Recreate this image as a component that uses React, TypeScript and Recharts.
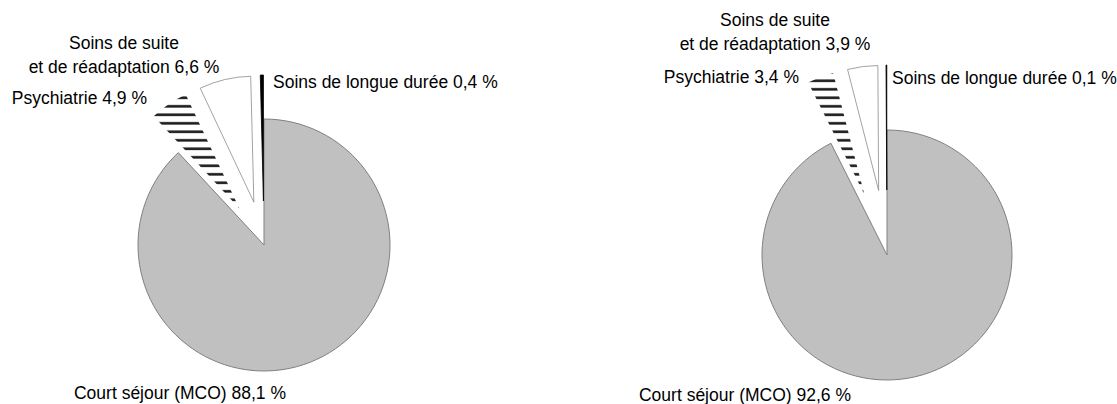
import { PieChart, Pie, Cell } from 'recharts';

// categories, clockwise from 12 o'clock
const categories = [
  'Court séjour (MCO)',
  'Psychiatrie',
  'Soins de suite\net de réadaptation',
  'Soins de longue durée',
];
const sharesLeft = [88.1, 4.9, 6.6, 0.4];
const sharesRight = [92.6, 3.4, 3.9, 0.1];

const FILLS = ['#c0c0c0', 'url(#stripes)', '#ffffff', '#000000'];
const STROKES = ['#808080', 'none', '#8a8a8a', '#000000'];
const EXPLODED = [1, 2, 3];

const FONT = "'Liberation Sans', Arial, sans-serif";

type LabelPos = { x: number; y: number; anchor: 'start' | 'middle' | 'end' };

const pies = [
  {
    id: 'left',
    values: sharesLeft,
    cx: 264,
    cy: 245,
    r: 126,
    explode: 44,
    labels: [
      { x: 180, y: 393, anchor: 'middle' },
      { x: 147, y: 98, anchor: 'end' },
      { x: 124, y: 43, anchor: 'middle' },
      { x: 273, y: 82, anchor: 'start' },
    ] as LabelPos[],
  },
  {
    id: 'right',
    values: sharesRight,
    cx: 887,
    cy: 255,
    r: 125,
    explode: 65,
    labels: [
      { x: 745, y: 395, anchor: 'middle' },
      { x: 799, y: 77, anchor: 'end' },
      { x: 775, y: 20, anchor: 'middle' },
      { x: 892, y: 78, anchor: 'start' },
    ] as LabelPos[],
  },
];

const fmt = (v: number) => v.toFixed(1).replace('.', ',') + ' %';

// mid angle of a slice (degrees, recharts convention), start at 90, clockwise
function midAngle(values: number[], i: number) {
  const total = values.reduce((a, b) => a + b, 0);
  const before = values.slice(0, i).reduce((a, b) => a + b, 0);
  return 90 - (360 * (before + values[i] / 2)) / total;
}

const makeLabel = (values: number[], layout: LabelPos[]) => (props: any) => {
  const i = props.index;
  const pos = layout[i];
  const lines = categories[i].split('\n');
  lines[lines.length - 1] += ' ' + fmt(values[i]);
  return (
    <text
      key={'lbl' + i}
      x={pos.x}
      y={pos.y}
      textAnchor={pos.anchor}
      dominantBaseline="central"
      fontFamily={FONT}
      fontSize={17.5}
      fill="#000"
    >
      {lines.map((l, k) => (
        <tspan key={k} x={pos.x} dy={k === 0 ? 0 : 24}>
          {l}
        </tspan>
      ))}
    </text>
  );
};

export default function App() {
  return (
    <div style={{ position: 'absolute', left: 0, top: 0, background: '#fff' }}>
      <PieChart width={1117} height={404} margin={{ top: 0, right: 0, bottom: 0, left: 0 }}>
        <defs>
          <pattern id="stripes" patternUnits="userSpaceOnUse" width="10" height="8.5">
            <rect width="10" height="8.5" fill="#ffffff" />
            <rect y="3" width="10" height="2.6" fill="#1a1a1a" />
          </pattern>
        </defs>
        {pies.map((p) => {
          const data = p.values.map((v, i) => ({ name: categories[i], value: v }));
          const layers = [
            <Pie
              key={p.id + '-base'}
              data={data}
              dataKey="value"
              cx={p.cx}
              cy={p.cy}
              outerRadius={p.r}
              startAngle={90}
              endAngle={-270}
              isAnimationActive={false}
              label={makeLabel(p.values, p.labels)}
              labelLine={false}
            >
              {data.map((_, i) => (
                <Cell
                  key={i}
                  fill={i === 0 ? FILLS[0] : 'none'}
                  stroke={i === 0 ? STROKES[0] : 'none'}
                  strokeWidth={1}
                />
              ))}
            </Pie>,
          ];
          EXPLODED.forEach((idx) => {
            const a = (midAngle(p.values, idx) * Math.PI) / 180;
            layers.push(
              <Pie
                key={p.id + '-x' + idx}
                data={data}
                dataKey="value"
                cx={p.cx + p.explode * Math.cos(a)}
                cy={p.cy - p.explode * Math.sin(a)}
                outerRadius={p.r}
                startAngle={90}
                endAngle={-270}
                isAnimationActive={false}
              >
                {data.map((_, i) => (
                  <Cell
                    key={i}
                    fill={i === idx ? FILLS[idx] : 'none'}
                    stroke={i === idx ? STROKES[idx] : 'none'}
                    strokeWidth={idx === 3 ? 0.8 : 0.8}
                  />
                ))}
              </Pie>
            );
          });
          return layers;
        })}
      </PieChart>
    </div>
  );
}
